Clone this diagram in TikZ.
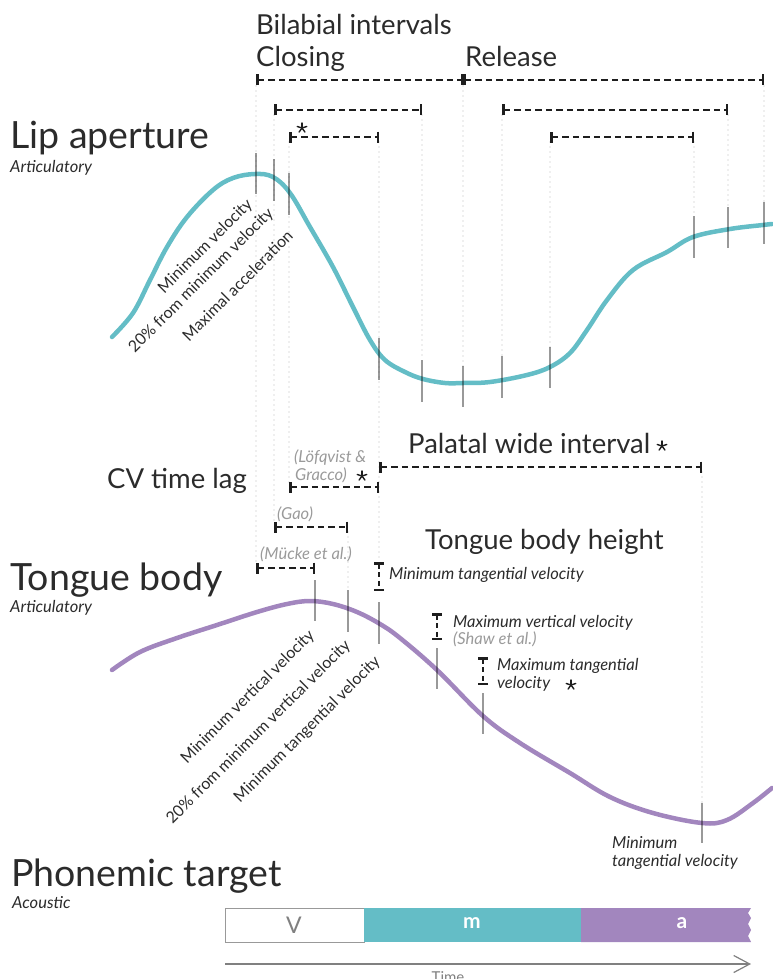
\documentclass[tikz,border=0pt]{standalone}
\usepackage{fontspec}
\setmainfont{Lato}
\usetikzlibrary{arrows.meta}
\definecolor{txt}{HTML}{2B2B2B}
\definecolor{lipc}{HTML}{64BDC6}
\definecolor{tongc}{HTML}{A286BE}
\definecolor{refgray}{HTML}{9A9A9A}
\definecolor{dotgray}{HTML}{B8B8B8}
\definecolor{brkc}{HTML}{1E1E1E}
\begin{document}
\begin{tikzpicture}[x=1pt,y=-1pt,
  every node/.style={inner sep=0pt, text=txt},
  big/.style={font=\fontsize{37.5}{42}\selectfont, anchor=base west},
  mid/.style={font=\fontsize{27.5}{30}\selectfont, anchor=base west},
  sub/.style={font=\itshape\fontsize{16.5}{19}\selectfont, anchor=base west},
  lab/.style={font=\itshape\fontsize{16.5}{19}\selectfont, anchor=base west},
  refl/.style={lab, text=refgray},
  rot/.style={font=\fontsize{16}{19}\selectfont, rotate=45, anchor=east},
  brk/.style={brkc, line width=2pt, dash pattern=on 6.5pt off 4pt,
    {Bar[width=11pt,line width=2.5pt]}-{Bar[width=11pt,line width=2.5pt]}},
  vbrk/.style={brkc, line width=2pt, dash pattern=on 5pt off 3.5pt,
    {Bar[width=10pt,line width=2.5pt]}-{Bar[width=10pt,line width=2.5pt]}},
  dots/.style={dotgray, line width=1.4pt, line cap=round, dash pattern=on 0pt off 5pt},
  tck/.style={black, line width=2pt, opacity=0.4},
  curve/.style={line width=4.5pt, line cap=round, line join=round},
  astr/.pic={\foreach \ang in {90,162,234,306,18}
     \draw[brkc, line width=1.4pt, line cap=round] (0,0) -- ++(\ang:5pt);}
]
\useasboundingbox (0,0) rectangle (772,979);

% ---------- dotted guide lines ----------
\draw[dots] (256,86) -- (256,563);
\draw[dots] (274,115) -- (274,522);
\draw[dots] (289,142) -- (289,482);
\draw[dots] (379,142) -- (379,558);
\draw[dots] (422,115) -- (422,358);
\draw[dots] (463,86) -- (463,366);
\draw[dots] (502,115) -- (502,356);
\draw[dots] (550,142) -- (550,347);
\draw[dots] (694,142) -- (694,216);
\draw[dots] (728,115) -- (728,207);
\draw[dots] (764,86) -- (764,202);
\draw[dots] (348,532) -- (348,590);
\draw[dots] (702,472) -- (702,803);

% ---------- curves ----------
\draw[curve, lipc] plot[smooth, tension=0.6] coordinates {
 (112,337) (133,313) (150,280) (167,247) (187,217) (213,190) (233,178) (255,174)
 (273,177) (290,193) (310,227) (333,267) (353,307) (370,340) (385,360) (405,372)
 (423,379) (445,383) (463,383) (490,382) (527,375) (550,367) (570,353) (587,330)
 (607,300) (633,270) (667,252) (693,237) (730,229) (763,225) (772,224)};
\draw[curve, tongc] plot[smooth, tension=0.6] coordinates {
 (112,670) (140,652) (177,638) (217,625) (257,612) (287,604) (310,601) (333,604)
 (357,612) (380,624) (400,638) (437,670) (483,716) (520,743) (570,773) (610,797)
 (653,813) (702,823) (727,820) (753,803) (772,788)};

% ---------- tick marks ----------
\foreach \x/\a/\b in {256/153/194, 274/159/201, 289/173/215, 379/338/380,
  422/360/402, 463/366/407, 502/356/398, 550/347/388, 694/216/258,
  728/207/248, 764/202/244,
  315/580/621, 348/590/632, 379/602/644, 437/648/689, 483/693/734, 702/803/843}
  \draw[tck] (\x,\a) -- (\x,\b);

% ---------- top brackets ----------
\coordinate (c0) at (256,80); \coordinate (c1) at (463,80); \coordinate (c2) at (764,80);
\draw[brk] (c0) -- (c1);
\draw[brk] (c1) -- (c2);
\coordinate (d0) at (274,110); \coordinate (d1) at (422,110);
\coordinate (d2) at (502,110); \coordinate (d3) at (728,110);
\draw[brk] (d0) -- (d1);
\draw[brk] (d2) -- (d3);
\coordinate (e0) at (289,137); \coordinate (e1) at (379,137);
\coordinate (e2) at (550,137); \coordinate (e3) at (694,137);
\draw[brk] (e0) -- (e1);
\draw[brk] (e2) -- (e3);
\pic at (302,128) {astr};

\node[mid] (bil) at (256,35) {Bilabial intervals};
\node[mid] (clo) at (256,67) {Closing};
\node[mid] (rel) at (465,67) {Release};

\node[big] (lip) at (10,148) {Lip aperture};
\node[sub] (lipa) at (10,172) {Articulatory};

\node[rot] (r1) at (250,202) {Minimum velocity};
\node[rot] (r2) at (271,211) {20\% from minimum velocity};
\node[rot] (r3) at (290,233) {Maximal acceleration};

% ---------- middle ----------
\node[mid] (cv) at (107,488) {CV time lag};
\node[refl] (lof) at (294,462) {(Löfqvist \&};
\node[refl] (gra) at (295,480) {Gracco)};
\pic at (362,476) {astr};
\coordinate (f0) at (289,487); \coordinate (f1) at (379,487);
\draw[brk] (f0) -- (f1);
\node[mid] (pal) at (408,453) {Palatal wide interval};
\pic at (662,446) {astr};
\coordinate (g0) at (379,467); \coordinate (g1) at (702,467);
\draw[brk] (g0) -- (g1);
\node[refl] (gao) at (277,519) {(Gao)};
\coordinate (h0) at (274,527); \coordinate (h1) at (348,527);
\draw[brk] (h0) -- (h1);
\node[refl] (muc) at (260,559) {(Mücke et al.)};
\coordinate (k0) at (256,568); \coordinate (k1) at (315,568);
\draw[brk] (k0) -- (k1);

\node[mid] (tbh) at (425,549) {Tongue body height};
\node[big] (tb) at (10,590) {Tongue body};
\node[sub] (tba) at (10,612) {Articulatory};

% vertical brackets
\coordinate (v0) at (379,562); \coordinate (v1) at (379,591);
\draw[vbrk] (v0) -- (v1);
\node[lab] (mtv) at (389,579) {Minimum tangential velocity};
\coordinate (v2) at (437,613); \coordinate (v3) at (437,640);
\draw[vbrk] (v2) -- (v3);
\node[lab] (mvv) at (453,627) {Maximum vertical velocity};
\node[refl] (sha) at (453,644) {(Shaw et al.)};
\coordinate (v4) at (483,657); \coordinate (v5) at (483,685);
\draw[vbrk] (v4) -- (v5);
\node[lab] (mxt) at (497,670) {Maximum tangential};
\node[lab] (mxt2) at (497,688) {velocity};
\pic at (571,685) {astr};

\node[rot] (t1) at (312,633) {Minimum vertical velocity};
\node[rot] (t2) at (348,643) {20\% from minimum vertical velocity};
\node[rot] (t3) at (378,659) {Minimum tangential velocity};

\node[lab] (bm1) at (612,848) {Minimum};
\node[lab] (bm2) at (612,866) {tangential velocity};

% ---------- phonemic target ----------
\node[big] (pt) at (11,886) {Phonemic target};
\node[sub] (pta) at (12,908) {Acoustic};

\draw[gray!80, line width=1pt, fill=white] (225,908) rectangle (364,942);
\fill[lipc] (364,908) rectangle (581,942);
\fill[tongc] (581,908) -- (751,908) -- (748,913) -- (751,918) -- (748,924)
  -- (751,930) -- (748,936) -- (751,942) -- (581,942) -- cycle;
\node[font=\fontsize{23}{25}\selectfont, text=gray] (V) at (294,925) {V};
\node[font=\bfseries\fontsize{21}{24}\selectfont, text=white] (m) at (472,923) {m};
\node[font=\bfseries\fontsize{21}{24}\selectfont, text=white] (a) at (682,923) {a};

\coordinate (ta) at (225,964); \coordinate (tb2) at (751,964);
\draw[gray, line width=1.2pt, -{Straight Barb[length=16pt,width=17pt,line width=1.2pt]}] (ta) -- (tb2);
\node[font=\fontsize{15}{17}\selectfont, text=gray, anchor=base] (time) at (448,982) {Time};
\end{tikzpicture}
\end{document}
